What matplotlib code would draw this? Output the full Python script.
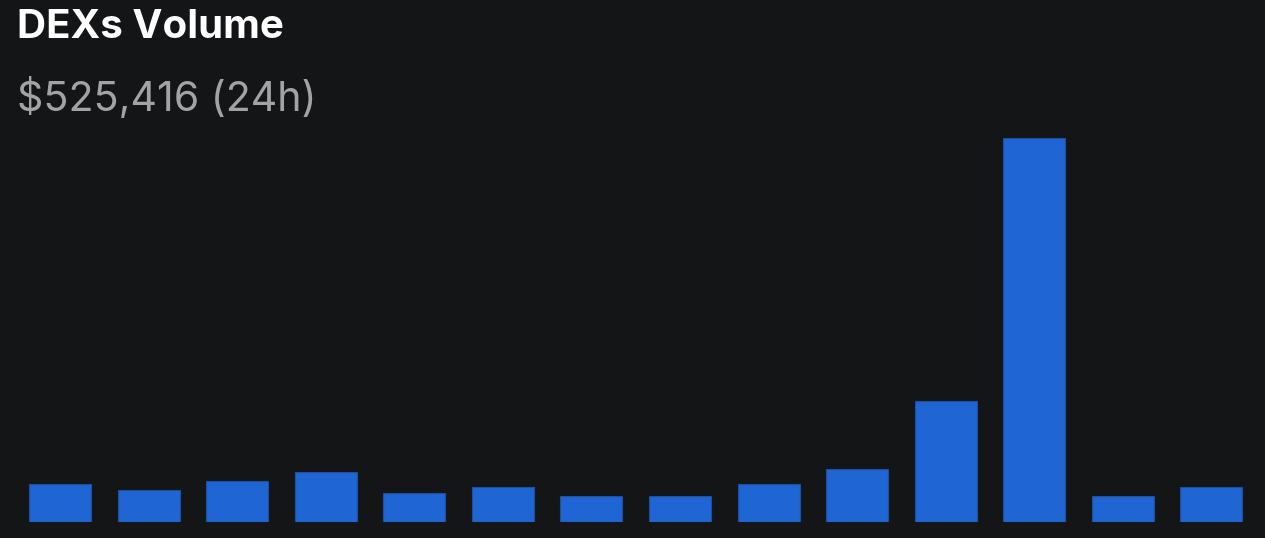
import matplotlib
matplotlib.use("Agg")
import matplotlib.pyplot as plt
import numpy as np

# bar heights (relative volume units)
days = list(range(14))
volume = [38, 32, 41, 50, 29, 35, 26, 26, 38, 53, 121, 384, 26, 35]

title = "DEXs Volume"
subtitle = "$525,416 (24h)"

BG = "#131517"
BAR = "#1f66d4"

W, H = 1265, 538
fig = plt.figure(figsize=(W / 100, H / 100), dpi=100, facecolor=BG)

# axes: baseline at y=522px, tallest bar top at 138px
left, right = 15.7, 1255.7
bottom, top = 522, 138
ax = fig.add_axes([left / W, 1 - bottom / H, (right - left) / W, (bottom - top) / H])
ax.set_facecolor(BG)
ax.bar(days, volume, width=0.70, color=BAR, edgecolor="#1d4f9c", linewidth=0.8)
ax.set_xlim(-0.5, len(days) - 0.5)
ax.set_ylim(0, max(volume))
ax.axis("off")

fig.text(17 / W, 1 - 38 / H, title, color="white", fontsize=29,
         fontweight="bold", family="Inter", ha="left", va="baseline")
fig.text(17 / W, 1 - 111 / H, subtitle, color="#a3a3a3", fontsize=29.6,
         family="Inter", ha="left", va="baseline")

fig.savefig("out.png", dpi=100, facecolor=BG)
